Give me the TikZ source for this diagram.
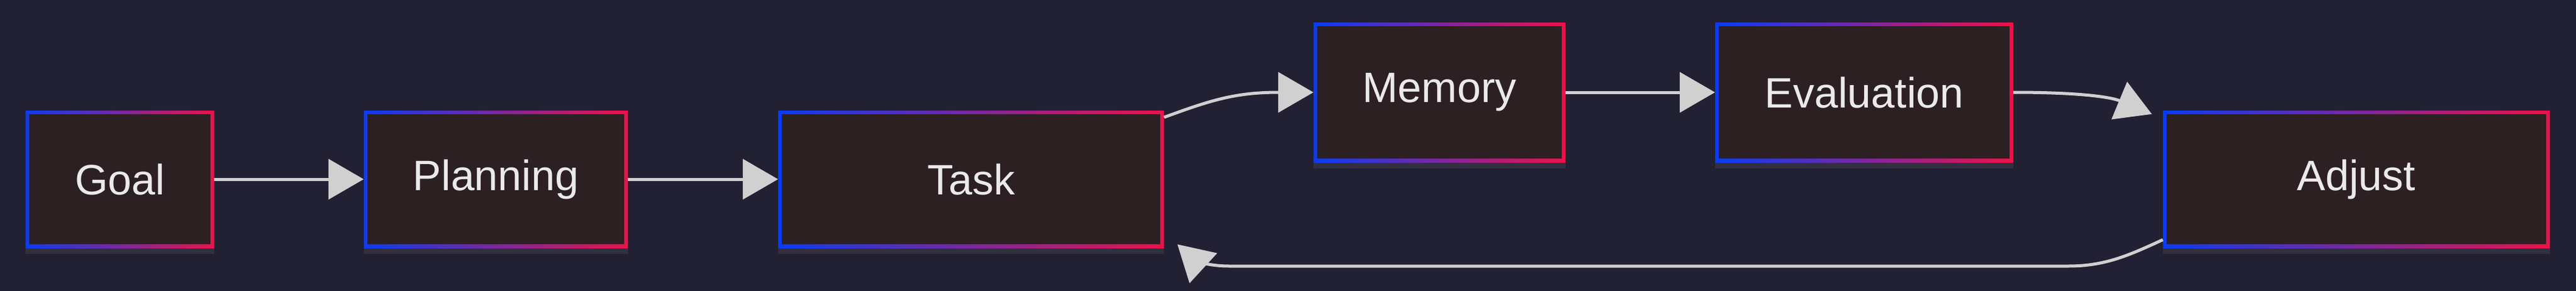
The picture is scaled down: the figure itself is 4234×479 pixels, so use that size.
\documentclass[tikz,border=0pt]{standalone}
\usepackage{fontspec}
\setmainfont{Liberation Sans}
\usetikzlibrary{arrows.meta,shadows,calc}
\definecolor{bg}{HTML}{222033}
\definecolor{boxfill}{HTML}{2D2022}
\definecolor{bl}{HTML}{0A3CF5}
\definecolor{rd}{HTML}{EC1249}
\definecolor{ln}{HTML}{D0D0D0}
\definecolor{tx}{HTML}{EAEAEA}
\begin{document}
\begin{tikzpicture}[x=1pt,y=-1pt,
  box/.style={rectangle,inner sep=0pt,left color=bl,right color=rd,draw=none,
    text=tx,font=\fontsize{70}{84}\selectfont,
    drop shadow={shadow xshift=0pt,shadow yshift=-10pt,opacity=0.12,fill=gray!70},
    path picture={\fill[boxfill] ([shift={(6pt,-6pt)}]path picture bounding box.north west) rectangle ([shift={(-6pt,6pt)}]path picture bounding box.south east);}},
  edge/.style={draw=ln,line width=5pt,-{Triangle[length=58pt,width=66pt]}}]
\fill[bg] (0,0) rectangle (4234,479);
\useasboundingbox (0,0) rectangle (4234,479);
\node[box,minimum width=310pt,minimum height=226pt] (g) at (197,295) {Goal};
\node[box,minimum width=434pt,minimum height=226pt] (p) at (815,295) {Planning};
\node[box,minimum width=634pt,minimum height=226pt] (t) at (1596,295) {Task};
\node[box,minimum width=414pt,minimum height=230pt] (m) at (2366,152) {Memory};
\node[box,minimum width=490pt,minimum height=230pt] (e) at (3064,152) {Evaluation};
\node[box,minimum width=636pt,minimum height=226pt] (a) at (3873,295) {Adjust};
\draw[edge] (g) -- (p);
\draw[edge] (p) -- (t);
\draw[edge] ($(t.north east)!0.05!(t.south east)$) .. controls (1990,165) and (2030,152) .. (m.west);
\draw[edge] (m) -- (e);
\draw[edge] (e.east) .. controls (3420,152) and (3470,160) .. ($(a.north west)+(-18,6)$);
\coordinate (b1) at (3400,438);
\coordinate (b2) at (2020,438);
\draw[edge] ($(a.south west)!0.06!(a.north west)$) .. controls (3500,420) and (3460,438) .. (b1) -- (b2) .. controls (1980,438) and (1960,425) .. ($(t.south east)+(22,-6)$);
\end{tikzpicture}
\end{document}
